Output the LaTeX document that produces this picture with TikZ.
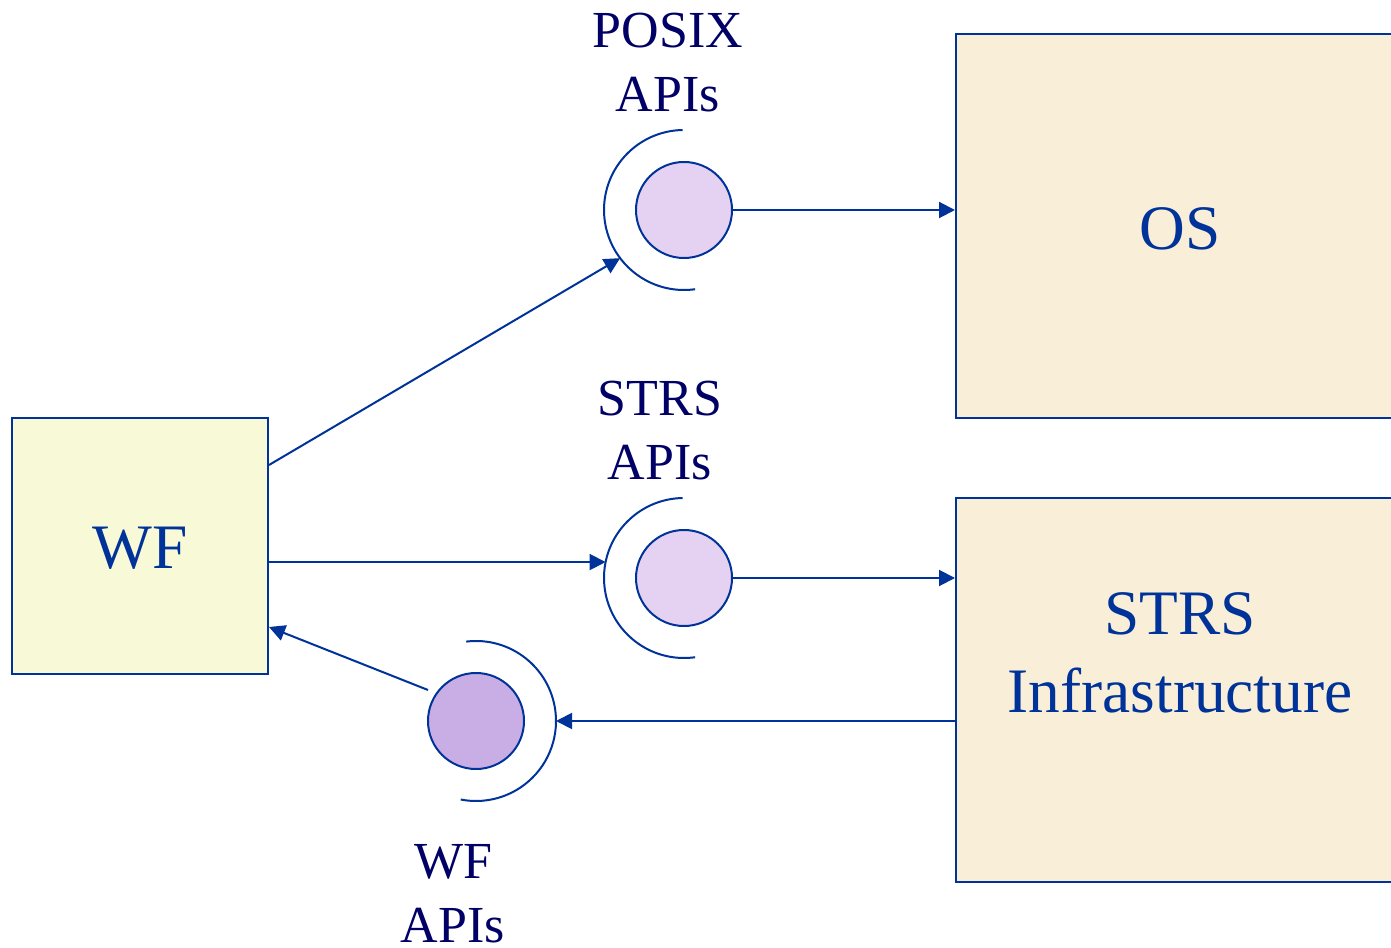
\documentclass[tikz,border=0pt]{standalone}
\usepackage{fontspec}
\setmainfont{Liberation Serif}
\usetikzlibrary{arrows.meta,calc}
\definecolor{lineblue}{HTML}{003399}
\definecolor{labelnavy}{HTML}{000066}
\definecolor{wffill}{HTML}{F7F9D7}
\definecolor{osfill}{HTML}{F9EED8}
\definecolor{apifill}{HTML}{E5D2F2}
\definecolor{wfapifill}{HTML}{C9AEE5}
\tikzset{
  x=0.75pt, y=0.75pt,
  conn/.style={draw=lineblue, line width=1.5pt, -{Triangle[length=12pt,width=12pt]}},
  boxnode/.style={draw=lineblue, line width=1.5pt, rectangle, inner sep=0pt, text=lineblue, font=\fontsize{47.5pt}{57pt}\selectfont},
  apinode/.style={draw=lineblue, line width=1.5pt, circle, inner sep=0pt, minimum size=72pt},
  sock/.style={draw=lineblue, line width=1.5pt},
  lbl/.style={text=labelnavy, align=center, inner sep=0pt, font=\fontsize{39pt}{48pt}\selectfont},
}
\begin{document}
\begin{tikzpicture}
\useasboundingbox (0,0) rectangle (1391,947);
% boxes
\node[boxnode, fill=wffill, minimum width=192pt, minimum height=192pt] (wf) at (140,401) {};
\node[text=lineblue, inner sep=0pt, font=\fontsize{47.5pt}{57pt}\selectfont] (wftext) at (140,399) {WF};
\node[boxnode, fill=osfill, minimum width=336pt, minimum height=288pt] (os) at (1180,721) {};
\node[text=lineblue, inner sep=0pt, font=\fontsize{47.5pt}{57pt}\selectfont] (ostext) at (1180,718) {OS};
\node[boxnode, fill=osfill, minimum width=336pt, minimum height=288pt] (infra) at (1180,257) {};
\node[text=lineblue, align=center, inner sep=0pt, font=\fontsize{47.5pt}{58pt}\selectfont] (infratext) at (1180,294) {STRS\\Infrastructure};
% interface circles
\node[apinode, fill=apifill] (posix) at (684,737) {};
\node[apinode, fill=apifill] (strs) at (684,369) {};
\node[apinode, fill=wfapifill] (wfapi) at (476,226) {};
% sockets
\draw[sock] ($(posix)+(91:80)$) arc[start angle=91, end angle=278, radius=80];
\draw[sock] ($(strs)+(91:80)$) arc[start angle=91, end angle=278, radius=80];
\draw[sock] ($(wfapi)+(97:80)$) arc[start angle=97, end angle=-101, radius=80];
% labels
\node[lbl] (posixlbl) at (668,884) {POSIX\\APIs};
\node[lbl] (strslbl) at (660,516) {STRS\\APIs};
\node[lbl] (wflbl) at (453,53) {WF\\APIs};
% connector points
\coordinate (posixsock) at ($(posix)+(217:80)$);
\coordinate (strssock) at ($(strs)+(168.5:80)$);
\coordinate (wfsock) at ($(wfapi)+(0:80)$);
\coordinate (wfout) at ($(wfapi)+(-48,31)$);
% connectors
\draw[conn] ($(wf.east)+(0,81)$) -- (posixsock);
\draw[conn] (posix.east) -- (posix.east -| os.west);
\draw[conn] (strssock -| wf.east) -- (strssock);
\draw[conn] (strs.east) -- (strs.east -| infra.west);
\draw[conn] (wfsock -| infra.west) -- (wfsock);
\draw[conn] (wfout) -- ($(wf.east)+(0,-81)$);
\end{tikzpicture}
\end{document}
